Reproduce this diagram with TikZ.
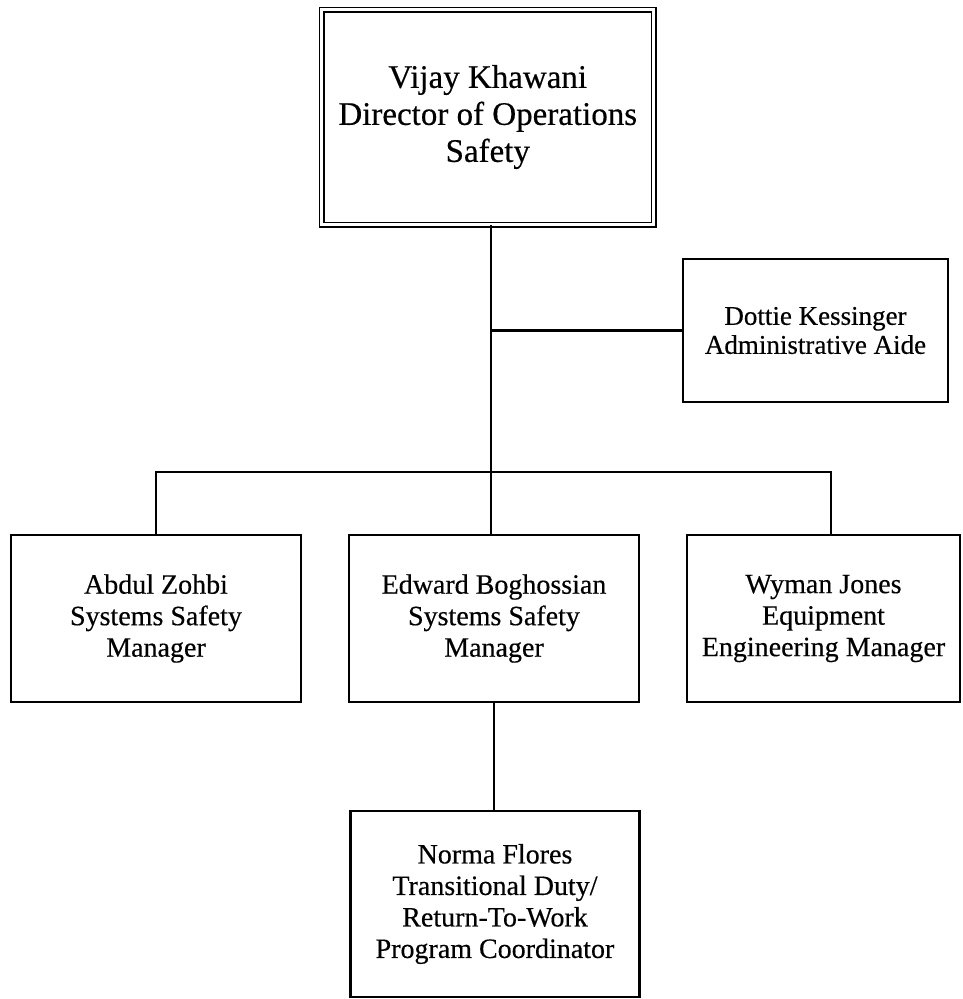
\documentclass[tikz,border=0pt]{standalone}
\usepackage{fontspec}
\setmainfont[FakeBold=0.4]{Liberation Serif}
\begin{document}
\begin{tikzpicture}[x=1pt,y=-1pt,
  box/.style={draw, line width=2.2pt, inner sep=0pt, align=center,
    font=\fontsize{28}{31.5}\selectfont},
  topbox/.style={draw, double, line width=1.7pt, double distance=2.6pt, inner sep=0pt, align=center,
    font=\fontsize{33}{37}\selectfont},
  conn/.style={line width=2.2pt}]
\useasboundingbox (0,0) rectangle (962,999);
\node[topbox, minimum width=332, minimum height=215] (T) at (487.75,117) {Vijay Khawani\\Director of Operations\\Safety};
\node[box, minimum width=265, minimum height=143, font=\fontsize{27}{29}\selectfont] (D) at (815.5,330.5) {Dottie Kessinger\\Administrative Aide};
\node[box, minimum width=290, minimum height=167] (A) at (156,618.5) {Abdul Zohbi\\Systems Safety\\Manager};
\node[box, minimum width=290, minimum height=167] (E) at (494,618.5) {Edward Boghossian\\Systems Safety\\Manager};
\node[box, minimum width=273, minimum height=167] (W) at (823.5,618.5) {Wyman Jones\\Equipment\\Engineering Manager};
\node[box, minimum width=289, minimum height=186] (N) at (495,904) {Norma Flores\\Transitional Duty/\\Return-To-Work\\Program Coordinator};
\coordinate (j) at (491,472);
\coordinate (wr) at (831,472);
\draw[conn] (j |- T.south) -- (j);
\draw[conn] (j |- D.west) -- (D.west);
\draw[conn] (A.north) -- (A.north |- j) -- (wr) -- (wr |- W.north);
\draw[conn] (j) -- (j |- E.north);
\draw[conn] (E.south) -- (E.south |- N.north);
\end{tikzpicture}
\end{document}
